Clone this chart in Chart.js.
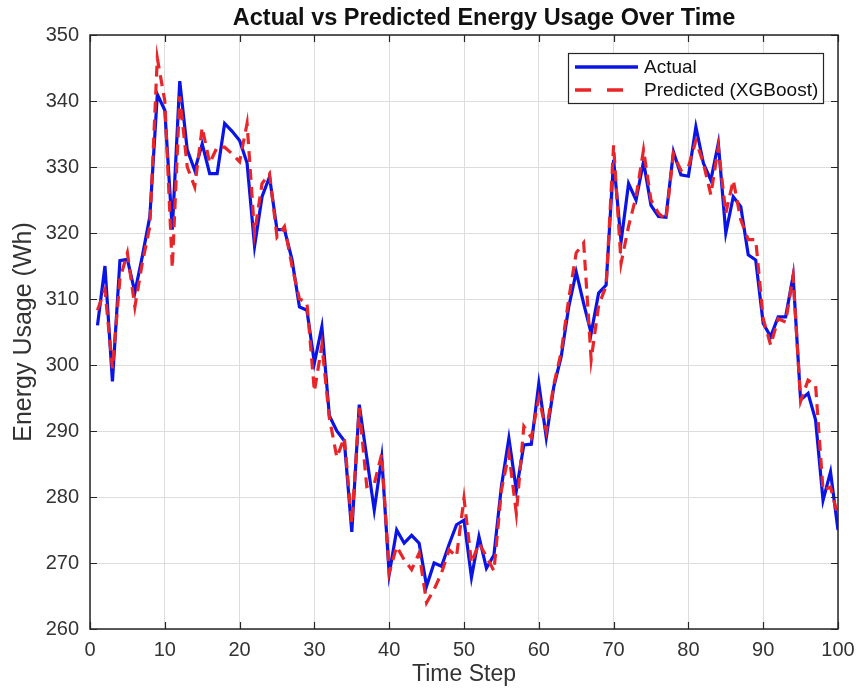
<!DOCTYPE html>
<html>
<head>
<meta charset="utf-8">
<script src="https://cdn.jsdelivr.net/npm/chart.js@4.4.1/dist/chart.umd.min.js"></script>
<style>
  html, body { margin: 0; padding: 0; background: #ffffff; overflow: hidden; }
  #wrap { width: 858px; height: 688px; position: relative; }
</style>
</head>
<body>
<div id="wrap"><canvas id="c" width="858" height="688"></canvas></div>
<script>
const timeSteps = Array.from({length: 100}, (_, i) => i + 1);
const actual = [306, 315, 297.5, 315.8, 316, 311, 316.5, 322.5, 341, 338.6,
  320.5, 343, 332.6, 329.5, 333.5, 329, 329, 336.6, 335.4, 334,
  330.6, 318, 325.5, 328.5, 320.5, 320.5, 316, 308.8, 308.3, 300.3,
  305.8, 292.3, 290, 288.5, 274.7, 294, 286, 278, 286, 268.3,
  275, 273, 274.2, 273, 266.5, 270, 269.5, 272.8, 275.8, 276.5,
  267.8, 274, 269.2, 271.2, 281.6, 288.9, 281, 287.9, 288, 297.2,
  289, 296.7, 301.3, 308.8, 314.1, 309.3, 304.8, 310.9, 312.1, 331.1,
  318.7, 327.5, 325, 330.8, 324.2, 322.5, 322.4, 332.3, 328.8, 328.6,
  336.1, 330.6, 328, 333.6, 320, 325.5, 324, 316.7, 315.9, 306.3,
  304.3, 307.3, 307.3, 313.5, 294.7, 295.7, 291.7, 279.5, 283.8, 275];
const predicted = [308.3, 311.4, 299.5, 313, 317, 308.8, 315.5, 321, 346.5, 340,
  314.7, 340.7, 330, 327, 336, 330.6, 333, 333, 332, 330.8,
  336.6, 320, 327.5, 329, 319.4, 321, 315, 310, 309.5, 296,
  303, 292, 286, 289, 276, 293.5, 281.6, 282, 286.5, 268.5,
  272.5, 270.5, 269, 271.5, 264, 266, 268.5, 272, 271, 279.8,
  270, 273, 271, 268.8, 281, 286.6, 277.5, 290.7, 289, 295,
  290, 297, 302, 310, 317, 318.5, 300.8, 309, 312, 333.3,
  315.4, 321, 325.5, 332.6, 325, 323, 322, 332, 329.5, 330,
  334, 330.6, 325.8, 333, 323, 328, 322, 319, 319, 307,
  303, 307, 306.5, 313.5, 294.5, 297.7, 297, 281, 281.5, 277];
const seriesNames = ['Actual', 'Predicted (XGBoost)'];
const chartTitle = 'Actual vs Predicted Energy Usage Over Time';
const xTicks = [0, 10, 20, 30, 40, 50, 60, 70, 80, 90, 100];
const yTicks = [260, 270, 280, 290, 300, 310, 320, 330, 340, 350];

const BLUE = '#0a14e6';
const RED = '#e8262a';
const FONT = '"Liberation Sans", Arial, sans-serif';

const toPts = (vals) => vals.map((v, i) => ({x: timeSteps[i], y: v}));

// title above the axes
const axesTitle = {
  id: 'axesTitle',
  afterDraw(chart) {
    const {ctx, chartArea: a} = chart;
    ctx.save();
    ctx.fillStyle = '#111';
    ctx.font = 'bold 23.5px ' + FONT;
    ctx.textAlign = 'center';
    ctx.textBaseline = 'middle';
    ctx.fillText(chartTitle, (a.left + a.right) / 2 + 20, 19);
    ctx.restore();
  }
};

// inward ticks on all four sides + box
const boxTicks = {
  id: 'boxTicks',
  afterDatasetsDraw(chart) {
    const {ctx, chartArea: a, scales: {x, y}} = chart;
    ctx.save();
    ctx.strokeStyle = '#262626';
    ctx.lineWidth = 1.2;
    ctx.beginPath();
    xTicks.forEach(v => {
      const px = Math.round(x.getPixelForValue(v)) + 0.5;
      ctx.moveTo(px, a.bottom); ctx.lineTo(px, a.bottom - 7);
      ctx.moveTo(px, a.top); ctx.lineTo(px, a.top + 7);
    });
    yTicks.forEach(v => {
      const py = Math.round(y.getPixelForValue(v)) + 0.5;
      ctx.moveTo(a.left, py); ctx.lineTo(a.left + 7, py);
      ctx.moveTo(a.right, py); ctx.lineTo(a.right - 7, py);
    });
    ctx.stroke();
    ctx.lineWidth = 1.5;
    ctx.strokeRect(a.left, a.top, a.right - a.left, a.bottom - a.top);
    ctx.restore();
  }
};

// MATLAB-like legend inside plot (northeast)
const boxLegend = {
  id: 'boxLegend',
  afterDraw(chart) {
    const {ctx, chartArea: a} = chart;
    const w = 255, h = 50;
    const x0 = a.right - 15 - w, y0 = a.top + 18;
    ctx.save();
    ctx.fillStyle = '#ffffff';
    ctx.fillRect(x0, y0, w, h);
    ctx.strokeStyle = '#262626';
    ctx.lineWidth = 1.2;
    ctx.strokeRect(x0 + 0.5, y0 + 0.5, w, h);
    const items = [
      {label: seriesNames[0], color: BLUE, dash: []},
      {label: seriesNames[1], color: RED, dash: [16, 16]}
    ];
    items.forEach((it, i) => {
      const yy = y0 + 14 + i * 23;
      ctx.strokeStyle = it.color;
      ctx.lineWidth = 3.5;
      ctx.setLineDash(it.dash);
      ctx.beginPath();
      ctx.moveTo(x0 + 7, yy); ctx.lineTo(x0 + 70, yy);
      ctx.stroke();
      ctx.setLineDash([]);
      ctx.fillStyle = '#111';
      ctx.font = '19px ' + FONT;
      ctx.textBaseline = 'middle';
      ctx.fillText(it.label, x0 + 76, yy + 1);
    });
    ctx.restore();
  }
};

new Chart(document.getElementById('c'), {
  type: 'line',
  data: {
    datasets: [
      {label: seriesNames[0], data: toPts(actual), borderColor: BLUE, borderWidth: 3.2,
       pointRadius: 0, tension: 0, fill: false, order: 1},
      {label: seriesNames[1], data: toPts(predicted), borderColor: RED, borderWidth: 3.2,
       borderDash: [11, 7], pointRadius: 0, tension: 0, fill: false, order: 0}
    ]
  },
  options: {
    responsive: false,
    animation: false,
    devicePixelRatio: 1,
    layout: {padding: {top: 35, right: 20, bottom: 0, left: 7}},
    plugins: {
      legend: {display: false},
      tooltip: {enabled: false},
      title: {display: false}
    },
    scales: {
      x: {
        type: 'linear', min: 0, max: 100,
        afterBuildTicks(s) { s.ticks = xTicks.map(v => ({value: v})); },
        afterFit(s) { s.height = 59; s.paddingLeft = 0; s.paddingRight = 0; },
        grid: {color: '#dddddd', lineWidth: 1, drawTicks: false},
        border: {display: false},
        ticks: {color: '#333', font: {family: FONT, size: 20}, padding: 9, maxRotation: 0},
        title: {display: true, text: 'Time Step', color: '#333',
                font: {family: FONT, size: 23}, padding: {top: 0, bottom: 0}}
      },
      y: {
        type: 'linear', min: 260, max: 350,
        afterBuildTicks(s) { s.ticks = yTicks.map(v => ({value: v})); },
        afterFit(s) { s.width = 83; s.paddingTop = 0; s.paddingBottom = 0; },
        grid: {color: '#dddddd', lineWidth: 1, drawTicks: false},
        border: {display: false},
        ticks: {color: '#333', font: {family: FONT, size: 20}, padding: 11},
        title: {display: true, text: 'Energy Usage (Wh)', color: '#333',
                font: {family: FONT, size: 25}, padding: {top: 2, bottom: 0}}
      }
    }
  },
  plugins: [boxTicks, boxLegend, axesTitle]
});
</script>
</body>
</html>
